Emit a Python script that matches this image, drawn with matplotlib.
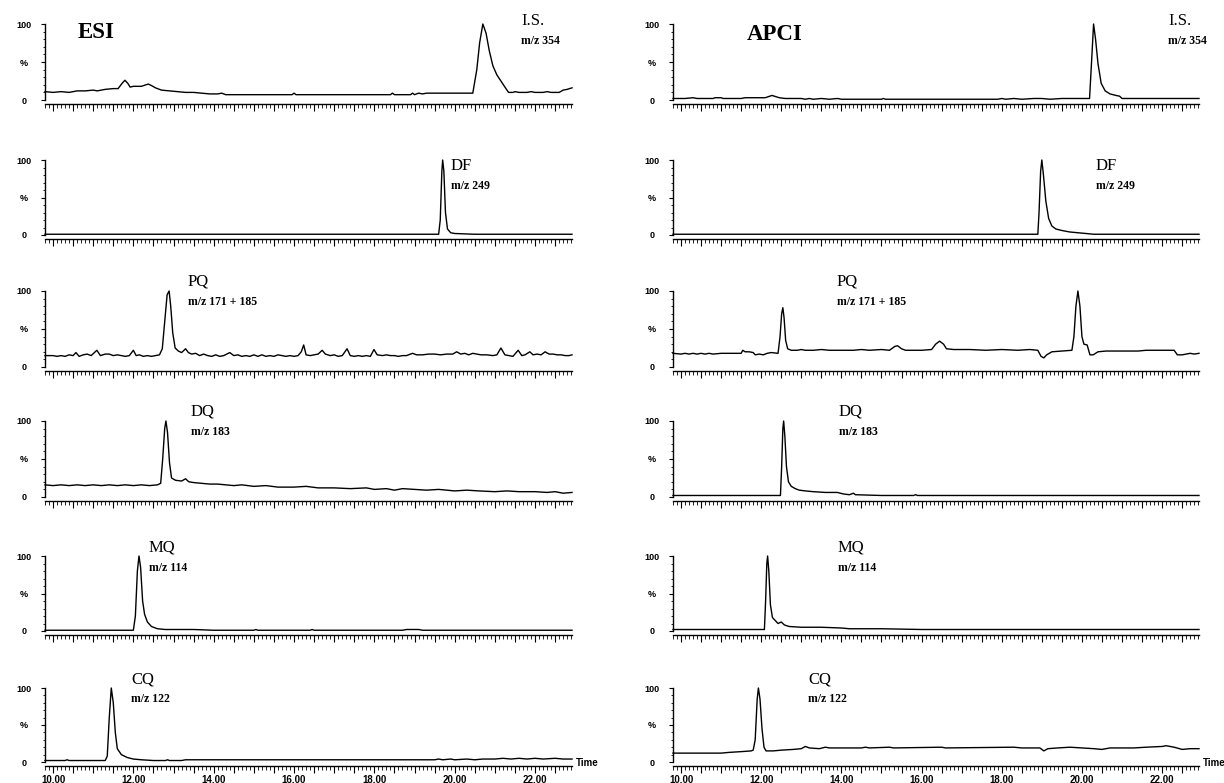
import matplotlib
matplotlib.use("Agg")
import matplotlib.pyplot as plt
from matplotlib.ticker import MultipleLocator, FixedLocator, FuncFormatter

# ---- data: (time, % intensity) ----
esi_is = [(9.8, 11), (10.0, 10), (10.2, 11), (10.4, 10), (10.6, 12), (10.8, 12), (11.0, 13), (11.1, 12),
          (11.2, 13), (11.3, 14), (11.5, 15), (11.62, 15), (11.72, 22), (11.79, 26), (11.86, 22), (11.92, 17),
          (12.0, 18), (12.2, 18), (12.37, 21), (12.45, 19), (12.55, 16), (12.7, 13), (12.9, 12), (13.1, 11),
          (13.3, 10), (13.5, 10), (13.7, 9), (13.9, 8), (14.1, 8), (14.2, 9), (14.3, 7), (15.0, 7), (15.95, 7),
          (16.0, 9), (16.05, 7), (17.0, 7), (18.4, 7), (18.45, 9), (18.5, 7), (18.9, 7), (18.95, 9), (19.0, 7),
          (19.1, 9), (19.2, 8), (19.3, 9), (20.45, 9), (20.55, 40), (20.62, 75), (20.7, 100), (20.78, 88),
          (20.86, 65), (20.95, 45), (21.05, 33), (21.15, 25), (21.25, 17), (21.34, 10), (21.45, 10), (21.5, 11),
          (21.6, 10), (21.8, 10), (21.9, 11), (22.0, 10), (22.2, 10), (22.3, 11), (22.4, 10), (22.6, 10),
          (22.7, 13), (22.8, 14), (22.92, 16)]
apci_is = [(9.8, 2), (10.1, 2), (10.3, 3), (10.4, 2), (10.8, 2), (10.85, 3), (11.0, 3), (11.05, 2), (11.5, 2),
           (11.6, 3), (12.1, 3), (12.27, 6), (12.45, 3), (12.6, 2), (13.0, 2), (13.1, 1), (13.2, 2), (13.3, 1),
           (13.5, 2), (13.7, 1), (13.9, 2), (14.0, 1), (15.0, 1), (15.05, 2), (15.1, 1), (17.9, 1), (18.0, 2),
           (18.1, 1), (18.3, 2), (18.5, 1), (18.8, 2), (19.0, 2), (19.2, 1), (19.5, 2), (20.19, 2), (20.24, 50),
           (20.29, 100), (20.34, 80), (20.4, 48), (20.48, 22), (20.58, 12), (20.7, 8), (20.85, 6), (20.94, 5),
           (21.0, 2), (22.92, 2)]

esi_df = [(9.8, 1), (12.0, 1), (15.0, 1), (19.6, 1), (19.64, 20), (19.68, 85), (19.7, 100), (19.73, 85),
          (19.77, 30), (19.82, 8), (19.9, 3), (20.0, 2), (20.5, 1), (22.92, 1)]
apci_df = [(9.8, 1), (12.0, 1), (15.0, 1), (18.9, 1), (18.93, 30), (18.97, 85), (19.0, 100), (19.04, 80),
           (19.1, 45), (19.17, 22), (19.25, 12), (19.35, 8), (19.5, 6), (19.7, 4), (19.9, 3), (20.1, 2),
           (20.3, 1), (22.92, 1)]

esi_pq = [(9.8, 15), (10.0, 15), (10.1, 14), (10.2, 15), (10.3, 14), (10.4, 16), (10.5, 15), (10.57, 19),
          (10.65, 14), (10.75, 16), (10.85, 17), (10.95, 15), (11.09, 22), (11.18, 15), (11.3, 17), (11.4, 17),
          (11.5, 15), (11.6, 16), (11.7, 15), (11.8, 14), (11.9, 15), (12.0, 22), (12.07, 15), (12.15, 16),
          (12.25, 14), (12.35, 15), (12.45, 14), (12.55, 15), (12.65, 16), (12.72, 24), (12.78, 60), (12.84, 95),
          (12.89, 100), (12.93, 80), (12.98, 45), (13.04, 25), (13.12, 21), (13.2, 19), (13.3, 24), (13.37, 19),
          (13.45, 17), (13.55, 18), (13.65, 15), (13.75, 17), (13.85, 15), (13.95, 14), (14.05, 16), (14.15, 14),
          (14.25, 15), (14.4, 19), (14.5, 15), (14.6, 16), (14.7, 14), (14.8, 15), (14.9, 14), (15.0, 16),
          (15.1, 14), (15.2, 16), (15.3, 14), (15.4, 15), (15.5, 14), (15.6, 16), (15.7, 15), (15.8, 14),
          (15.9, 15), (16.0, 14), (16.1, 15), (16.18, 20), (16.24, 29), (16.3, 16), (16.4, 15), (16.5, 16),
          (16.6, 17), (16.7, 22), (16.78, 17), (16.9, 15), (17.0, 16), (17.1, 14), (17.2, 15), (17.32, 24),
          (17.4, 15), (17.5, 14), (17.6, 15), (17.7, 14), (17.8, 15), (17.9, 14), (17.99, 23), (18.07, 16),
          (18.2, 15), (18.3, 16), (18.4, 15), (18.5, 15), (18.6, 14), (18.7, 15), (18.8, 15), (18.95, 18),
          (19.05, 16), (19.2, 16), (19.35, 17), (19.5, 17), (19.65, 16), (19.8, 17), (19.95, 17), (20.05, 20),
          (20.15, 17), (20.25, 18), (20.35, 16), (20.45, 18), (20.55, 17), (20.65, 16), (20.8, 16), (20.95, 15),
          (21.05, 16), (21.15, 25), (21.25, 16), (21.35, 15), (21.45, 14), (21.58, 22), (21.67, 15), (21.75, 16),
          (21.87, 20), (21.95, 16), (22.05, 17), (22.15, 16), (22.25, 20), (22.35, 17), (22.45, 17), (22.55, 16),
          (22.65, 16), (22.75, 15), (22.85, 15), (22.92, 16)]
apci_pq = [(9.8, 18), (10.0, 17), (10.1, 18), (10.2, 17), (10.3, 18), (10.4, 17), (10.5, 18), (10.6, 17),
           (10.7, 18), (10.8, 17), (11.0, 18), (11.2, 18), (11.5, 18), (11.54, 22), (11.6, 20), (11.7, 20),
           (11.8, 19), (11.85, 16), (11.95, 17), (12.05, 16), (12.15, 18), (12.25, 19), (12.42, 18), (12.47, 40),
           (12.51, 70), (12.54, 78), (12.57, 65), (12.61, 35), (12.66, 24), (12.75, 22), (12.9, 22), (13.0, 23),
           (13.1, 22), (13.3, 22), (13.5, 23), (13.7, 22), (14.0, 22), (14.3, 22), (14.5, 23), (14.7, 22),
           (15.0, 23), (15.2, 22), (15.33, 27), (15.4, 28), (15.5, 24), (15.6, 22), (16.0, 22), (16.25, 23),
           (16.35, 30), (16.45, 34), (16.55, 30), (16.62, 24), (16.8, 23), (17.2, 23), (17.6, 22), (18.0, 23),
           (18.4, 22), (18.7, 23), (18.9, 22), (18.98, 14), (19.05, 12), (19.12, 16), (19.25, 20), (19.5, 21),
           (19.75, 22), (19.8, 40), (19.85, 80), (19.9, 100), (19.95, 80), (20.0, 40), (20.05, 30), (20.13, 29),
           (20.2, 16), (20.28, 16), (20.4, 20), (20.6, 21), (21.0, 21), (21.4, 21), (21.6, 22), (22.0, 22),
           (22.3, 22), (22.38, 16), (22.5, 16), (22.7, 18), (22.8, 17), (22.92, 18)]

esi_dq = [(9.8, 16), (10.0, 15), (10.2, 16), (10.4, 15), (10.6, 16), (10.8, 15), (11.0, 16), (11.2, 15),
          (11.4, 16), (11.6, 15), (11.8, 16), (12.0, 15), (12.2, 16), (12.4, 15), (12.6, 16), (12.68, 18),
          (12.73, 50), (12.78, 90), (12.81, 100), (12.85, 85), (12.9, 45), (12.95, 25), (13.05, 22), (13.2, 21),
          (13.3, 24), (13.38, 20), (13.5, 19), (13.7, 18), (13.9, 17), (14.1, 17), (14.3, 16), (14.5, 15),
          (14.7, 16), (15.0, 14), (15.3, 15), (15.6, 13), (16.0, 13), (16.3, 14), (16.6, 12), (17.0, 12),
          (17.4, 11), (17.8, 12), (18.0, 10), (18.3, 11), (18.5, 9), (18.7, 11), (19.0, 10), (19.3, 9),
          (19.6, 10), (20.0, 8), (20.3, 9), (20.6, 8), (21.0, 7), (21.3, 8), (21.6, 7), (22.0, 7), (22.3, 6),
          (22.5, 7), (22.7, 5), (22.92, 6)]
apci_dq = [(9.8, 2), (11.0, 2), (12.0, 2), (12.48, 2), (12.51, 40), (12.54, 90), (12.56, 100), (12.59, 80),
           (12.63, 40), (12.68, 20), (12.75, 14), (12.85, 11), (12.95, 9), (13.1, 8), (13.3, 7), (13.6, 6),
           (13.9, 6), (14.05, 4), (14.2, 3), (14.3, 5), (14.35, 3), (15.0, 2), (15.8, 2), (15.85, 3), (15.9, 2),
           (19.0, 2), (22.92, 2)]

esi_mq = [(9.8, 1), (11.0, 1), (12.0, 1), (12.05, 20), (12.1, 80), (12.14, 100), (12.18, 85), (12.23, 40),
          (12.28, 22), (12.35, 12), (12.45, 6), (12.6, 3), (12.8, 2), (13.5, 2), (14.0, 1), (15.0, 1), (15.05, 2),
          (15.1, 1), (16.4, 1), (16.45, 2), (16.5, 1), (18.7, 1), (18.8, 2), (19.1, 2), (19.2, 1), (22.92, 1)]
apci_mq = [(9.8, 2), (11.5, 2), (12.08, 2), (12.11, 40), (12.14, 90), (12.16, 100), (12.19, 80), (12.23, 35),
           (12.28, 18), (12.35, 14), (12.42, 10), (12.5, 12), (12.58, 8), (12.7, 6), (13.0, 5), (13.5, 5),
           (14.0, 4), (14.2, 3), (15.0, 3), (16.0, 2), (22.92, 2)]

esi_cq = [(9.8, 2), (10.3, 2), (10.35, 3), (10.4, 2), (11.3, 2), (11.35, 8), (11.4, 60), (11.45, 100),
          (11.5, 80), (11.55, 40), (11.6, 18), (11.7, 10), (11.85, 6), (12.0, 4), (12.2, 3), (12.5, 2),
          (12.8, 2), (12.85, 3), (12.9, 2), (13.2, 2), (13.3, 3), (16.0, 3), (19.5, 3), (19.6, 4), (19.7, 3),
          (19.9, 4), (20.0, 3), (20.3, 4), (20.5, 3), (20.7, 4), (21.0, 4), (21.2, 5), (21.4, 4), (21.6, 5),
          (21.8, 4), (22.0, 5), (22.2, 4), (22.5, 5), (22.7, 4), (22.92, 4)]
apci_cq = [(9.8, 12), (10.5, 12), (11.0, 12), (11.2, 13), (11.5, 14), (11.75, 15), (11.8, 16), (11.85, 30),
           (11.9, 85), (11.93, 100), (11.97, 85), (12.02, 45), (12.07, 20), (12.12, 15), (12.3, 15), (12.5, 16),
           (12.8, 17), (13.0, 18), (13.1, 21), (13.2, 19), (13.45, 18), (13.6, 20), (13.7, 19), (14.5, 19),
           (14.6, 20), (14.7, 19), (15.2, 20), (15.3, 19), (16.5, 20), (16.6, 19), (18.3, 20), (18.5, 19),
           (18.95, 19), (19.05, 15), (19.15, 18), (19.4, 19), (19.7, 20), (20.0, 19), (20.3, 18), (20.5, 17),
           (20.7, 19), (21.3, 19), (21.6, 20), (22.0, 21), (22.1, 22), (22.3, 20), (22.5, 17), (22.7, 18),
           (22.92, 18)]

esi_traces = [esi_is, esi_df, esi_pq, esi_dq, esi_mq, esi_cq]
apci_traces = [apci_is, apci_df, apci_pq, apci_dq, apci_mq, apci_cq]
compounds = ["I.S.", "DF", "PQ", "DQ", "MQ", "CQ"]
mz_labels = ["m/z 354", "m/z 249", "m/z 171 + 185", "m/z 183", "m/z 114", "m/z 122"]
x_ticks = [10.0, 12.0, 14.0, 16.0, 18.0, 20.0, 22.0]

W, H = 1224, 783
rows_px = [(24, 100), (160, 235), (291, 367), (421, 497), (556, 631), (688, 762)]
cols_px = [(45, 572), (673, 1199)]
# label positions (px, top-left) for compound name per column
name_pos = [
    [(521, 13), (451, 158), (188, 274), (191, 404), (149, 540), (131, 671)],
    [(1168, 13), (1096, 158), (837, 274), (839, 404), (838, 540), (808, 671)],
]
serif = "Liberation Serif"
sans = "Liberation Sans"

fig = plt.figure(figsize=(W / 100, H / 100), dpi=100)


def fx(px):
    return px / W


def fy(py):
    return 1 - py / H


for c, traces in enumerate([esi_traces, apci_traces]):
    x0, x1 = cols_px[c]
    for r, trace in enumerate(traces):
        top, bot = rows_px[r]
        s = (bot - top) / 100.0
        ax_top = top - 1 * s
        ax_bot = bot + 5 * s
        ax = fig.add_axes([fx(x0), fy(ax_bot), (x1 - x0) / W, (ax_bot - ax_top) / H])
        t = [p[0] for p in trace]
        y = [p[1] for p in trace]
        ax.plot(t, y, color="black", lw=1.0, clip_on=False)
        ax.set_xlim(9.8, 22.92)
        ax.set_ylim(-5, 101)
        for sp in ["top", "right"]:
            ax.spines[sp].set_visible(False)
        ax.spines["left"].set_bounds(0, 100)
        ax.spines["left"].set_linewidth(1.0)
        ax.spines["bottom"].set_linewidth(1.0)
        ax.yaxis.set_major_locator(FixedLocator([0, 50, 100]))
        ax.yaxis.set_minor_locator(MultipleLocator(10))
        ax.set_yticklabels(["0", "%", "100"])
        ax.tick_params(axis="y", which="major", length=3, width=0.8, pad=12, labelsize=6.5)
        ax.tick_params(axis="y", which="minor", length=1.5, width=0.6)
        for lab in ax.get_yticklabels():
            lab.set_fontweight("bold")
            lab.set_fontfamily(sans)
            lab.set_horizontalalignment("center")
        ax.xaxis.set_major_locator(MultipleLocator(0.5))
        ax.xaxis.set_minor_locator(MultipleLocator(0.1))
        ax.xaxis.set_major_formatter(FuncFormatter(
            lambda v, p: "%.2f" % v if min(abs(v - k) for k in x_ticks) < 1e-6 else ""))
        ax.tick_params(axis="x", which="major", length=5, width=0.8, labelsize=7, pad=2)
        ax.tick_params(axis="x", which="minor", length=3, width=0.6)
        if r < 5:
            ax.tick_params(axis="x", labelbottom=False)
        else:
            for lab in ax.get_xticklabels():
                lab.set_fontweight("bold")
                lab.set_fontfamily(sans)
            fig.text(fx(x1 + 4), fy(bot + 1), "Time", fontsize=7, fontweight="bold",
                     family=sans, ha="left", va="center")
        ax.patch.set_visible(False)

        nx, ny = name_pos[c][r]
        fig.text(fx(nx), fy(ny), compounds[r], fontsize=12, family=serif, ha="left", va="top")
        fig.text(fx(nx), fy(ny + 22), mz_labels[r], fontsize=8.5, family=serif,
                 fontweight="bold", ha="left", va="top")

fig.text(fx(78), fy(22), "ESI", fontsize=16.5, family=serif, fontweight="bold", ha="left", va="top")
fig.text(fx(747), fy(24), "APCI", fontsize=16.5, family=serif, fontweight="bold", ha="left", va="top")

fig.savefig("out.png", dpi=100)
